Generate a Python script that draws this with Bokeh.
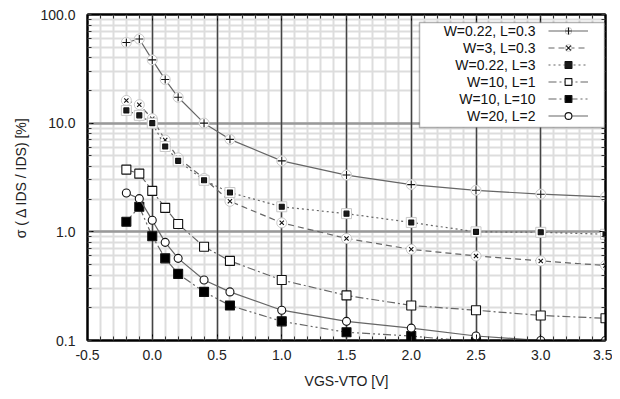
from bokeh.plotting import figure
from bokeh.models import (FixedTicker, PrintfTickFormatter, LinearAxis, LogAxis, Grid,
                          Legend, LegendItem, Label, BoxAnnotation, Range1d,
                          CustomJSTickFormatter)
from bokeh.embed import file_html
from bokeh.resources import INLINE

# ---------------- data ----------------
vgs = [-0.2, -0.1, 0.0, 0.1, 0.2, 0.4, 0.6, 1.0, 1.5, 2.0, 2.5, 3.0, 3.5]
s_w022_l03 = [55.3, 59.5, 38.2, 25.2, 17.3, 10.0, 7.1, 4.5, 3.33, 2.72, 2.41, 2.22, 2.10]
s_w3_l03 = [16.2, 14.8, 11.0, 7.0, 4.8, 3.1, 1.91, 1.21, 0.87, 0.69, 0.60, 0.54, 0.49]
s_w022_l3 = [13.1, 11.8, 10.0, 6.1, 4.5, 2.98, 2.30, 1.70, 1.47, 1.22, 1.00, 0.99, 0.95]
s_w10_l1 = [3.74, 3.43, 2.38, 1.66, 1.18, 0.73, 0.54, 0.36, 0.26, 0.21, 0.19, 0.17, 0.16]
vgs_w10_l10 = [-0.2, -0.1, 0.0, 0.1, 0.2, 0.4, 0.6, 1.0, 1.5, 2.0, 2.5]
s_w10_l10 = [1.24, 1.70, 0.91, 0.57, 0.41, 0.28, 0.21, 0.15, 0.119, 0.110, 0.097]
s_w20_l2 = [2.28, 2.02, 1.28, 0.80, 0.57, 0.36, 0.28, 0.19, 0.15, 0.13, 0.11, 0.10, 0.10]

labels = ["W=0.22, L=0.3", "W=3, L=0.3", "W=0.22, L=3", "W=10, L=1", "W=10, L=10", "W=20, L=2"]
x_ticks = [-0.5, 0.0, 0.5, 1.0, 1.5, 2.0, 2.5, 3.0, 3.5]
x_minor = [round(-0.5 + 0.1 * i, 1) for i in range(41)]
y_ticks = [0.1, 1, 10, 100]
y_minor = [m * d for d in (0.1, 1, 10) for m in range(1, 10)] + [100]

series = [
    (vgs, s_w022_l03), (vgs, s_w3_l03), (vgs, s_w022_l3),
    (vgs, s_w10_l1), (vgs_w10_l10, s_w10_l10), (vgs, s_w20_l2),
]

FONT = "Liberation Sans"
styles = [
    dict(dash="solid", marker="cross", size=8, fill="white", halo="circle"),
    dict(dash="6 4", marker="x", size=6, fill="white", halo="circle"),
    dict(dash="2 3", marker="square", size=5, fill="#1a1a1a", halo="square"),
    dict(dash="8 3 2 3", marker="square", size=9, fill="white", halo=None),
    dict(dash="8 3 2 3 2 3", marker="square", size=9, fill="black", halo=None),
    dict(dash="solid", marker="circle", size=8, fill="white", halo=None),
]

p = figure(width=612, height=391, x_axis_type="linear", y_axis_type="log",
           x_range=Range1d(-0.5, 3.5), y_range=Range1d(0.1, 100),
           output_backend="svg", toolbar_location=None,
           min_border_left=87, min_border_right=7, min_border_top=14, min_border_bottom=50)
p.background_fill_color = "white"
p.border_fill_color = "white"
p.outline_line_color = "black"
p.outline_line_width = 2

xt = FixedTicker(ticks=x_ticks, minor_ticks=x_minor)
yt = FixedTicker(ticks=y_ticks, minor_ticks=y_minor)

# axes
xa = p.xaxis[0]
xa.ticker = xt
xa.formatter = PrintfTickFormatter(format="%.1f")
ya = p.yaxis[0]
ya.ticker = yt
ya.formatter = PrintfTickFormatter(format="%.1f")
for ax in (xa, ya):
    ax.major_tick_in = 6
    ax.major_tick_out = 0
    ax.minor_tick_in = 4
    ax.minor_tick_out = 0
    ax.axis_line_width = 2
    ax.axis_line_color = "black"
    ax.major_tick_line_color = "black"
    ax.minor_tick_line_color = "#333333"
    ax.major_label_text_font = FONT
    ax.major_label_text_font_size = "14px"
    ax.major_label_text_color = "#222222"
    ax.axis_label_text_font = FONT
    ax.axis_label_text_font_size = "14px"
    ax.axis_label_text_font_style = "normal"
    ax.axis_label_text_color = "#222222"
xa.axis_label = "VGS-VTO [V]"
xa.major_label_standoff = 9
xa.axis_label_standoff = 10
ya.axis_label = "σ ( Δ IDS / IDS) [%]"
ya.major_label_standoff = 12
ya.axis_label_standoff = 8

blank = CustomJSTickFormatter(code="return ''")
top = LinearAxis(ticker=xt, formatter=blank)
right = LogAxis(ticker=yt, formatter=blank)
for ax in (top, right):
    ax.major_label_standoff = 0
    ax.major_tick_in = 6
    ax.major_tick_out = 0
    ax.minor_tick_in = 4
    ax.minor_tick_out = 0
    ax.axis_line_width = 2
    ax.axis_line_color = "black"
    ax.major_tick_line_color = "black"
    ax.minor_tick_line_color = "#333333"
p.add_layout(top, "above")
p.add_layout(right, "right")

# grids: minor lines first, major lines drawn on top
p.xgrid.ticker = xt
p.ygrid.ticker = yt
for g in (p.xgrid[0], p.ygrid[0]):
    g.grid_line_color = None
    g.minor_grid_line_color = "#dddddd"
    g.minor_grid_line_width = 2
p.add_layout(Grid(dimension=1, ticker=yt, grid_line_color="#999999", grid_line_width=2.5))
p.add_layout(Grid(dimension=0, ticker=xt, grid_line_color="#444444", grid_line_width=1.5))

items = []
for (xs, ys), st, lab in zip(series, styles, labels):
    rs = []
    rs.append(p.line(xs, ys, line_color="#666666", line_width=1.2, line_dash=st["dash"]))
    if st["halo"]:
        rs.append(p.scatter(xs, ys, marker=st["halo"], size=10, fill_color="white",
                            line_color="#c8c8c8", line_width=1))
    rs.append(p.scatter(xs, ys, marker=st["marker"], size=st["size"], fill_color=st["fill"],
                        line_color="#111111", line_width=1.1))
    items.append(LegendItem(label=" ", renderers=rs))

# legend frame, glyphs and right-aligned texts
box = BoxAnnotation(left=332, right=517, bottom=213, top=318,
                    left_units="screen", right_units="screen",
                    bottom_units="screen", top_units="screen",
                    fill_color="white", fill_alpha=1.0,
                    line_color="black", line_width=1.5)
p.add_layout(box)

legend = Legend(items=items, location=(461, 216), orientation="vertical",
                glyph_width=40, glyph_height=17, label_height=17, label_width=1,
                label_standoff=0, spacing=0, padding=0, margin=0,
                background_fill_alpha=0, border_line_alpha=0,
                label_text_font_size="10px")
p.add_layout(legend)

for k, lab in enumerate(labels):
    p.add_layout(Label(x=448, y=309.5 - 17 * k, x_units="screen", y_units="screen",
                       text=lab, text_align="right", text_baseline="middle",
                       text_font=FONT, text_font_size="14px", text_color="#111111"))

open("out.html", "w").write(file_html(p, INLINE))
